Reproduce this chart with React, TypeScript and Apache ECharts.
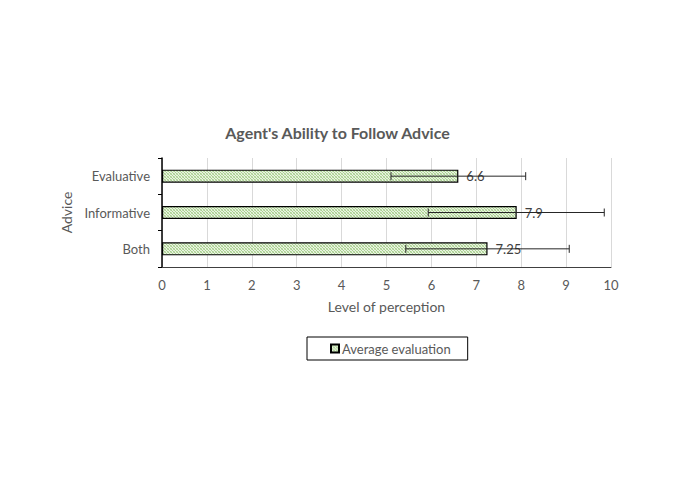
import React, { useEffect, useRef } from "react";
import * as echarts from "echarts";

const categories = ["Evaluative", "Informative", "Both"];
const averages = [6.6, 7.9, 7.25];
const errorLow = [5.1, 5.93, 5.43];
const errorHigh = [8.1, 9.85, 9.07];
const xTicks = [0, 10];

function makePattern(): HTMLCanvasElement {
  const c = document.createElement("canvas");
  c.width = 3;
  c.height = 3;
  const ctx = c.getContext("2d")!;
  ctx.fillStyle = "#e9f3e1";
  ctx.fillRect(0, 0, 3, 3);
  ctx.fillStyle = "#a9d18e";
  ctx.fillRect(0, 0, 1, 1);
  ctx.fillRect(1, 1, 1, 1);
  ctx.fillRect(2, 2, 1, 1);
  ctx.fillStyle = "#c5e0b4";
  ctx.fillRect(2, 0, 1, 1);
  ctx.fillRect(0, 2, 1, 1);
  return c;
}

export default function App() {
  const ref = useRef<HTMLDivElement>(null);
  useEffect(() => {
    if (!ref.current) return;
    const chart = echarts.init(ref.current, null, { renderer: "svg" });
    const pattern = { image: makePattern(), repeat: "repeat" };
    const font = "Lato, 'Open Sans', sans-serif";
    chart.setOption({
      animation: false,
      backgroundColor: "#ffffff",
      textStyle: { fontFamily: font },
      title: {
        text: "Agent's Ability to Follow Advice",
        left: "center",
        top: 119,
        textStyle: { fontSize: 16, fontWeight: "bold", color: "#595959", fontFamily: font },
      },
      legend: {
        left: 307,
        top: 337,
        padding: [5, 17, 5, 23],
        borderColor: "#000000",
        borderWidth: 1,
        itemWidth: 8,
        itemHeight: 8,
        itemGap: 3,
        icon: "rect",
        textStyle: { fontSize: 13, color: "#595959", fontFamily: font, padding: [0, 0, 0, -2] },
        data: ["Average evaluation"],
      },
      grid: { left: 162, right: 64, top: 158, bottom: 211, containLabel: false },
      xAxis: {
        type: "value",
        min: xTicks[0],
        max: xTicks[1],
        interval: 1,
        name: "Level of perception",
        nameLocation: "middle",
        nameGap: 32,
        nameTextStyle: { fontSize: 14, color: "#595959" },
        axisLine: { show: true, lineStyle: { color: "#404040", width: 1 } },
        axisTick: { show: false },
        axisLabel: { fontSize: 13, color: "#595959", margin: 11 },
        splitLine: { show: true, lineStyle: { color: "#d9d9d9", width: 1 } },
      },
      yAxis: {
        type: "category",
        data: categories,
        inverse: true,
        name: "Advice",
        nameLocation: "middle",
        nameGap: 82,
        nameRotate: 90,
        nameTextStyle: { fontSize: 14, color: "#595959" },
        axisLine: { show: true, lineStyle: { color: "#000000", width: 1.5 } },
        axisTick: { show: true, length: 4, lineStyle: { color: "#000000" } },
        axisLabel: { fontSize: 13, color: "#595959", margin: 12 },
        splitLine: { show: false },
      },
      series: [
        {
          name: "Average evaluation",
          type: "bar",
          data: averages,
          barWidth: 13,
          itemStyle: { color: pattern, borderColor: "#000000", borderWidth: 1.2 },
          label: {
            show: true,
            position: "right",
            distance: 8,
            fontSize: 13,
            color: "#404040",
          },
          z: 2,
        },
        {
          name: "errors",
          type: "custom",
          data: categories.map((_, i) => [i, errorLow[i], errorHigh[i]]),
          encode: { y: 0, x: [1, 2] },
          renderItem: (params: any, api: any) => {
            const i = api.value(0);
            const lo = api.coord([api.value(1), i]);
            const hi = api.coord([api.value(2), i]);
            const cap = 4;
            const style = { stroke: "#262626", lineWidth: 1 };
            return {
              type: "group",
              children: [
                { type: "line", shape: { x1: lo[0], y1: lo[1], x2: hi[0], y2: hi[1] }, style },
                { type: "line", shape: { x1: lo[0], y1: lo[1] - cap, x2: lo[0], y2: lo[1] + cap }, style },
                { type: "line", shape: { x1: hi[0], y1: hi[1] - cap, x2: hi[0], y2: hi[1] + cap }, style },
              ],
            };
          },
          z: 5,
          silent: true,
        },
      ],
    });
    return () => chart.dispose();
  }, []);
  return <div ref={ref} style={{ width: 675, height: 478, position: "absolute", left: 0, top: 0 }} />;
}
